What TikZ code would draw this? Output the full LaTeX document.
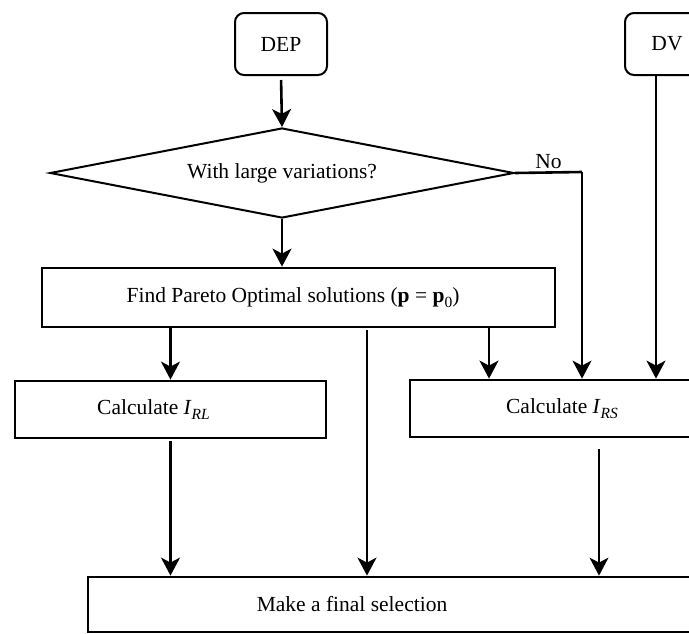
\documentclass[tikz,border=0pt]{standalone}
\usepackage{fontspec}
\setmainfont{Liberation Serif}
\usetikzlibrary{shapes.geometric,arrows.meta}
\newcommand\lowsub[1]{\raisebox{-5pt}{\fontsize{15.5}{16}\selectfont #1}}
\begin{document}
\begin{tikzpicture}[x=1pt,y=-1pt,font=\fontsize{21.5}{24}\selectfont]
\tikzset{
 box/.style={draw, line width=2.8pt, minimum height=57pt, inner sep=0pt},
 term/.style={draw, line width=2pt, rounded corners=9pt, minimum width=92pt, minimum height=62pt, inner sep=0pt},
 dec/.style={shape=diamond, draw, line width=2pt, aspect=5.16, inner sep=0pt, minimum width=464pt, minimum height=90pt},
 arr/.style={line width=2.6pt, -{Stealth[length=18pt,width=19pt,inset=5pt]}},
 plain/.style={line width=2.6pt},
}
\useasboundingbox (0,0) rectangle (689,633);
\fill[white] (0,0) rectangle (689,633);
\node[term] (dep) at (281,44) {DEP};
\node[term, minimum width=84pt] (dv) at (667,44) {DV};
\node[dec] (dia) at (282,173) {With large variations?};
\node[box, minimum width=513pt, minimum height=59pt] (par) at (298.5,297.5) {Find Pareto Optimal solutions (\textbf{p} = \textbf{p}\lowsub{0})\hspace*{11pt}};
\node[box, minimum width=311pt] (rl) at (170.5,409.5) {Calculate \textit{I}\lowsub{\textit{RL}}\hspace*{34pt}};
\node[box, minimum width=320pt] (rs) at (570,408.5) {Calculate \textit{I}\lowsub{\textit{RS}}\hspace*{16pt}};
\node[box, minimum width=632pt, minimum height=55pt] (fin) at (404,604.5) {Make a final selection\hspace*{104pt}};
\coordinate (nocorner) at (582,172);
\coordinate (xdv) at (656,0);
\coordinate (xa) at (489,0);
\coordinate (xm) at (367,0);
\coordinate (xr) at (599,0);
\draw[arr, shorten <=4pt] (dep.south) -- (dia.north);
\draw[plain] (dia.east) -- (nocorner) node[midway, above, inner sep=2pt] {No};
\draw[arr, line width=2.2pt] (nocorner) -- (nocorner |- rs.north);
\draw[arr, line width=2.2pt] (dv.south -| xdv) -- (rs.north -| xdv);
\draw[arr] (dia.south) -- (dia.south |- par.north);
\draw[arr] (par.south -| rl.north) -- (rl.north);
\draw[arr] (par.south -| xa) -- (rs.north -| xa);
\draw[arr, shorten <=2pt] (par.south -| xm) -- (fin.north -| xm);
\draw[arr, shorten <=2pt] (rl.south) -- (rl.south |- fin.north);
\draw[arr, line width=1.6pt, shorten <=11pt] (rs.south -| xr) -- (fin.north -| xr);
\end{tikzpicture}
\end{document}
